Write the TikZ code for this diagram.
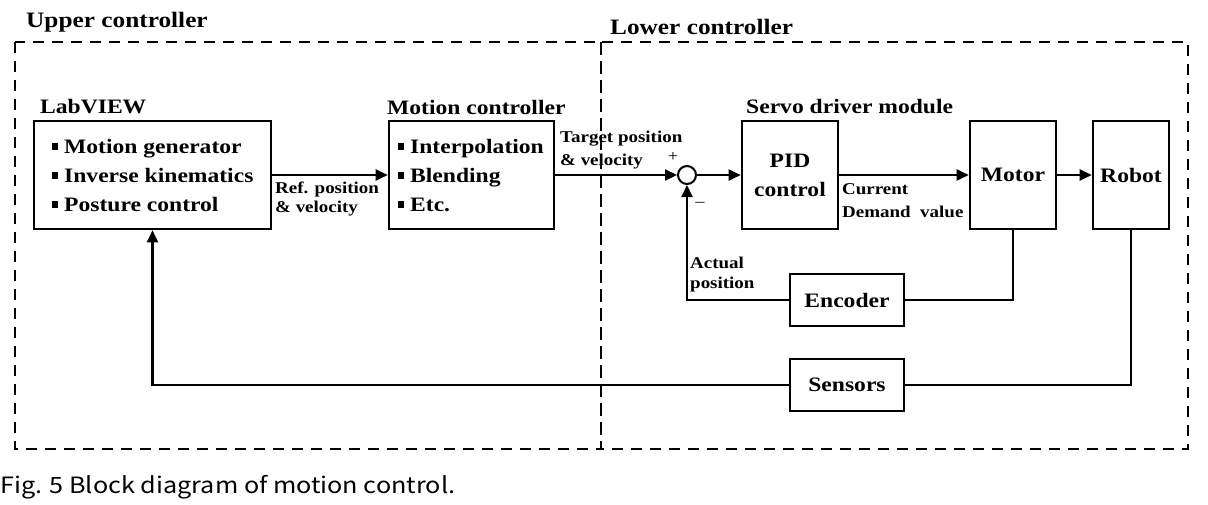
\documentclass[tikz,border=0pt]{standalone}
\usepackage{fontspec}
\setmainfont{Liberation Serif}[FakeStretch=1.15]
\newfontfamily\capfont{Noto Sans CJK KR}[FakeStretch=1.12]
\usetikzlibrary{arrows.meta}
\newcommand{\bul}{\rule[4pt]{6pt}{7pt}\hspace{6pt}}
\begin{document}
\begin{tikzpicture}[x=1pt,y=-1pt,
 box/.style={draw, line width=2.6pt, inner sep=0pt},
 conn/.style={line width=2.2pt},
 arr/.style={conn, -{Triangle[length=12pt,width=11pt]}},
 dbox/.style={draw, line width=2pt, dash pattern=on 11pt off 8pt},
 big/.style={font=\bfseries\fontsize{20.5}{29}\selectfont, inner sep=0pt},
 title/.style={font=\bfseries\fontsize{22}{26}\selectfont, inner sep=0pt, anchor=west},
 small/.style={font=\bfseries\fontsize{16.5}{20}\selectfont, inner sep=0pt, anchor=west, align=left},
]
\useasboundingbox (0,0) rectangle (1208,504);
% group frames
\draw[dbox] (15,42) rectangle (601,449);
\draw[dbox] (601,42) rectangle (1188,449);
\node[title] (up) at (26,22) {Upper controller};
\node[title] (lo) at (610,27) {Lower controller};
% boxes
\node[box, minimum width=237pt, minimum height=108pt] (lab) at (152.5,175) {};
\node[box, minimum width=165pt, minimum height=108pt] (mc) at (471.5,175) {};
\node[box, big, align=center, minimum width=96pt, minimum height=108pt] (pid) at (790,175) {PID\\control};
\node[box, big, minimum width=86pt, minimum height=108pt] (motor) at (1013,175) {Motor};
\node[box, big, minimum width=76pt, minimum height=108pt] (robot) at (1131,175) {Robot};
\node[box, big, minimum width=114pt, minimum height=52pt] (enc) at (847,300) {Encoder};
\node[box, big, minimum width=114pt, minimum height=52pt] (sens) at (847,385) {Sensors};
\node[draw, circle, line width=2pt, minimum size=18pt, inner sep=0pt] (sum) at (687,175) {};
% box titles
\node[big, anchor=west] (labt) at (40,107) {LabVIEW};
\node[big, anchor=west] (mct) at (387,107) {Motion controller};
\node[big, anchor=west] (sdt) at (746,107) {Servo driver module};
% box contents
\node[big, anchor=west, align=left] (labi) at (52,176) {\bul Motion generator\\\bul Inverse kinematics\\\bul Posture control};
\node[big, anchor=west, align=left] (mci) at (398,176) {\bul Interpolation\\\bul Blending\\\bul Etc.};
% connectors
\draw[arr] (lab.east) -- (mc.west);
\draw[arr] (mc.east) -- (sum.west);
\draw[arr] (sum.east) -- (pid.west);
\draw[arr] (pid.east) -- (motor.west);
\draw[arr] (motor.east) -- (robot.west);
\draw[conn] (motor.south) |- (enc.east);
\draw[arr] (enc.west) -| (sum.south);
\draw[conn] (robot.south) |- (sens.east);
\draw[arr] (sens.west) -| (lab.south);
% signal labels
\node[small, font=\bfseries\fontsize{16.5}{19}\selectfont] (refl) at (275,198.5) {Ref. position\\\& velocity};
\node[small, font=\bfseries\fontsize{16.5}{23}\selectfont] (tgl) at (560,150) {Target position\\\& velocity};
\node[small, font=\bfseries\fontsize{16.5}{23}\selectfont] (cdl) at (842,200.5) {Current\\Demand\ \ value};
\node[small, font=\bfseries\fontsize{16.5}{20}\selectfont] (apl) at (690,275) {Actual\\position};
\node[inner sep=0pt, font=\fontsize{16}{18}\selectfont] (plus) at (673,157) {+};
\node[inner sep=0pt, font=\fontsize{16}{18}\selectfont] (minus) at (700,204) {--};
% caption
\node[anchor=west, inner sep=0pt, font=\capfont\fontsize{22.5}{26}\selectfont] (cap) at (0,487) {Fig. 5 Block diagram of motion control.};
\end{tikzpicture}
\end{document}
